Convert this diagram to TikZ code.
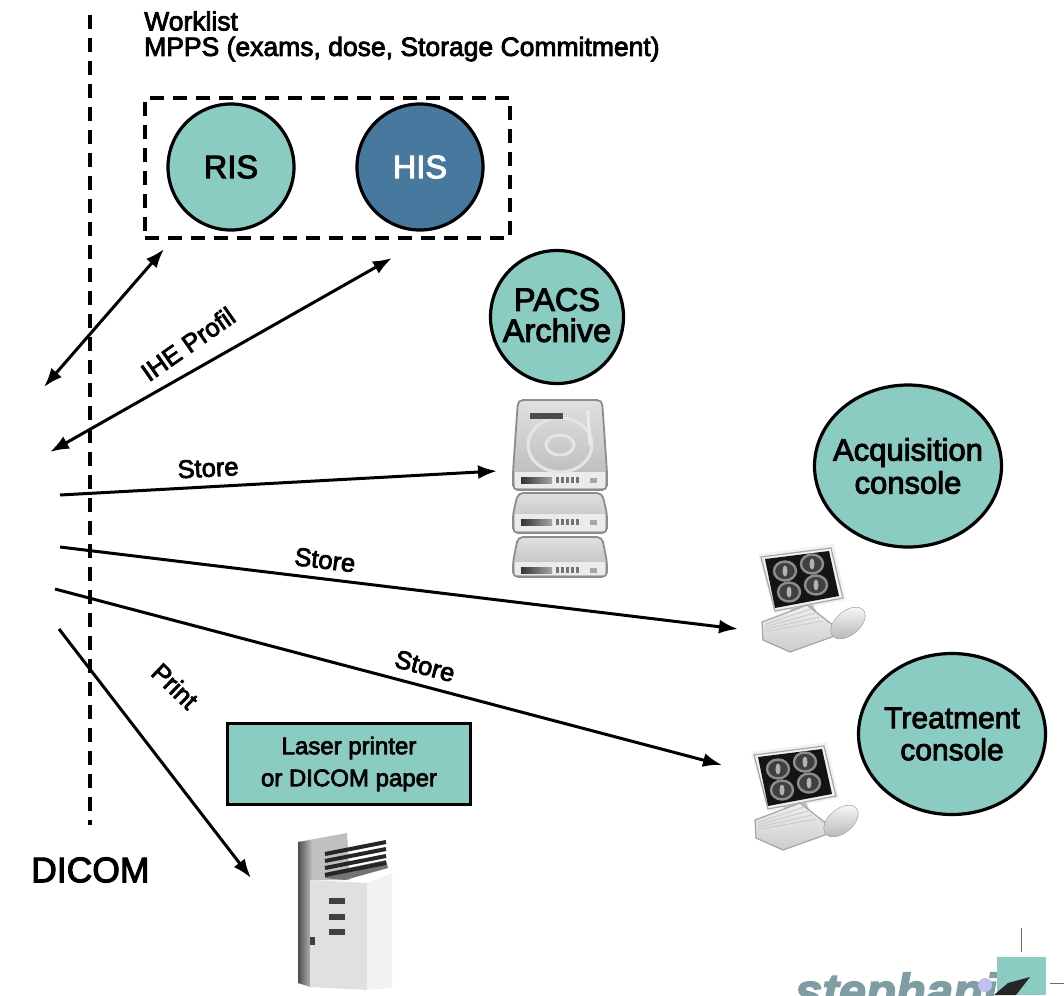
\documentclass[tikz,border=0pt]{standalone}
\usepackage{fontspec}
\setmainfont{Liberation Sans}[FakeBold=3]
\usetikzlibrary{arrows.meta,shapes.geometric}
\definecolor{teal1}{HTML}{8ACCC2}
\definecolor{blue1}{HTML}{47799F}
\definecolor{logo}{HTML}{7F9EA3}
\tikzset{
 x=1pt,y=-1pt,
 dia/.style={draw=black,line width=3.2pt,fill=teal1,ellipse,inner sep=-20pt,align=center,font=\fontsize{32.5}{33}\selectfont},
 link/.style={line width=3pt,-{Latex[length=19pt,width=14pt]}},
 link2/.style={line width=3pt,{Latex[length=19pt,width=14pt]}-{Latex[length=19pt,width=14pt]}},
 lab/.style={font=\fontsize{25.5}{25.5}\selectfont,inner sep=0pt,align=left},
 dashline/.style={line width=3.2pt,dash pattern=on 14pt off 9pt},
 drive/.style={draw=black!45,line width=1.8pt,rounded corners=5pt},
 pics/disk/.style n args={3}{code={
   \fill[drive,top color=black!12,bottom color=black!28] (518,#1) -- (602,#1) -- (607,#2) -- (607,#3) -- (513,#3) -- (513,#2) -- cycle;
   \fill[black!8] (515,#2) rectangle (605,#3-2);
   \shade[left color=black!80,right color=black!35] (521,#2+5) rectangle (552,#2+11);
   \foreach \vx in {556,561,566,571,576}{\fill[black!55] (\vx,#2+5) rectangle (\vx+3,#2+11);}
   \fill[black!35] (590,#2+6) rectangle (597,#2+11);
 }},
 pics/station/.style={code={
   \fill[black!5] (758,554) -- (834,544) -- (846,600) -- (775,614) -- cycle;
   \draw[black!35,line width=1.2pt] (761,557) -- (831,548) -- (843,598) -- (775,611) -- cycle;
   \fill[black!92] (765,559) -- (829,551) -- (839,596) -- (775,608) -- cycle;
   \foreach \cx/\cy in {785/571,812/564,789/592,816/585}{
     \draw[black!45,line width=2.4pt,fill=black!75] (\cx,\cy) ellipse (11pt and 9.5pt);
     \fill[black!30] (\cx,\cy) ellipse (2.5pt and 5.5pt);
   }
   \fill[black!25] (790,608) -- (812,603) -- (818,615) -- (795,622) -- cycle;
   \fill[draw=black!35,line width=1.2pt,top color=black!6,bottom color=black!20] (762,622) -- (807,605) -- (843,633) -- (790,652) -- (763,640) -- cycle;
   \foreach \t in {0.2,0.4,0.6,0.8}{\draw[black!20,line width=1pt] (765,{622+12*\t}) -- ({807+20*\t},{605+20*\t});}
   \fill[rotate around={40:(848,623)},draw=black!30,top color=black!3,bottom color=black!28] (848,623) ellipse (20pt and 12pt);
 }},
}
\begin{document}
\begin{tikzpicture}
\useasboundingbox (0,0) rectangle (1064,995);
\clip (0,0) rectangle (1064,995);
\fill[white] (0,0) rectangle (1064,995);

% DICOM boundary
\coordinate (dtop) at (90,15);
\coordinate (dbot) at (90,825);
\draw[dashline] (dtop) -- (dbot);
\node[lab,anchor=west,font=\fontsize{35.5}{36}\selectfont] (dicom) at (31,870) {DICOM};

\node[lab,anchor=north west,font=\fontsize{26.5}{25.5}\selectfont] (wl) at (144,11) {Worklist\\MPPS (exams, dose, Storage Commitment)};

% RIS/HIS group
\node[draw=black,dashline,minimum width=365pt,minimum height=140pt,inner sep=0pt] (grp) at (327.5,168) {};
\node[dia,minimum width=126pt,minimum height=126pt] (ris) at (231,167) {RIS};
\node[dia,fill=blue1,text=white,minimum width=126pt,minimum height=126pt] (his) at (420,167) {HIS};
\node[dia,minimum width=133pt,minimum height=133pt] (pacs) at (557,317) {\raisebox{4pt}{PACS}\\[-2pt]\raisebox{4pt}{Archive}};
\node[dia,minimum width=187pt,minimum height=162pt,font=\fontsize{31}{33}\selectfont] (acq) at (908,466) {Acquisition\\console};
\node[dia,minimum width=187pt,minimum height=161pt,font=\fontsize{30}{32}\selectfont] (tre) at (952,734) {Treatment\\console};

% servers
\pic {disk={537}{562}{577}};
\pic {disk={493}{514}{533}};
\pic {disk={400}{472}{490}};
\draw[black!10,line width=3pt] (560,445) ellipse (32pt and 27pt);
\draw[black!10,line width=3pt] (560,445) ellipse (14pt and 10pt);
\fill[black!70] (530,413) rectangle (563,419);
\draw[black!8,line width=3pt] (588,410) -- (590,445);
\node[inner sep=0pt,minimum width=94pt,minimum height=178pt] (srv) at (560,489) {};

% stations
\pic {station};
\begin{scope}[shift={(-7,198)}]\pic {station};\end{scope}
\node[inner sep=0pt,minimum size=2pt] (st1) at (800,600) {};
\node[inner sep=0pt,minimum size=2pt] (st2) at (793,798) {};

% printer label
\node[draw=black,line width=2.6pt,fill=teal1,minimum width=243pt,minimum height=81pt,inner sep=0pt,align=center,font=\fontsize{24}{32}\selectfont] (plab) at (349,764) {Laser printer\\or DICOM paper};

% printer
\fill[black!25] (298,842) -- (347,833) -- (350,880) -- (310,880) -- (310,987) -- (298,983) -- cycle;
\shade[left color=black!70,right color=black!25] (298,842) -- (312,840) -- (312,987) -- (298,983) -- cycle;
\fill[black!12] (310,880) -- (367,883) -- (367,990) -- (310,987) -- cycle;
\fill[black!5] (367,883) -- (392,873) -- (392,988) -- (367,990) -- cycle;
\fill[black!55] (325,873) -- (386,860) -- (388,868) -- (345,880) -- (325,878) -- cycle;
\foreach \yy in {850,857,864,871}{\draw[black!85,line width=4pt] (325,\yy+4) -- (386,\yy-8);}
\foreach \yy in {901,917,932}{\fill[black!75] (329,\yy-3) rectangle (345,\yy+3);}
\fill[black!75] (310,937) rectangle (315,945);
\node[inner sep=0pt,minimum width=94pt,minimum height=150pt] (prn) at (345,915) {};

% connectors
\coordinate (c1) at (44,387); \coordinate (g1) at (164,249);
\coordinate (c2) at (50,452); \coordinate (g2) at (392,258);
\coordinate (c3) at (60,495); \coordinate (s1) at (497,471);
\coordinate (c4) at (60,547); \coordinate (a1) at (738,629);
\coordinate (c5) at (55,589); \coordinate (a2) at (722,765);
\coordinate (c6) at (59,629); \coordinate (p1) at (251,878);
\draw[link2] (c1) -- (g1);
\draw[link2] (c2) -- (g2);
\draw[link] (c3) -- (s1);
\draw[link] (c4) -- (a1);
\draw[link] (c5) -- (a2);
\draw[link] (c6) -- (p1);

\node[lab,rotate=35] (ihe) at (188,344) {IHE Profil};
\node[lab,rotate=3] (st1l) at (208,468) {Store};
\node[lab,rotate=-7] (st2l) at (325,560) {Store};
\node[lab,rotate=-15] (st3l) at (425,666) {Store};
\node[lab,rotate=-44] (prl) at (175,686) {Print};

% logo
\node[inner sep=0pt,anchor=base west,text=logo,font=\fontsize{49}{50}\selectfont\bfseries\itshape] (logotxt) at (795,1008) {stephani};
\fill[teal1] (997,957) rectangle (1046,995);
\fill[black!20!blue!25] (985,985) circle (7pt);
\fill[black!85] (1030,977) -- (1008,983) -- (994,995) -- (1016,995) -- cycle;
\coordinate (lv1) at (1021,928); \coordinate (lv2) at (1021,952);
\coordinate (lh1) at (1050,983); \coordinate (lh2) at (1064,983);
\draw[black!60,line width=1pt] (lv1) -- (lv2);
\draw[black!60,line width=1pt] (lh1) -- (lh2);
\end{tikzpicture}
\end{document}
